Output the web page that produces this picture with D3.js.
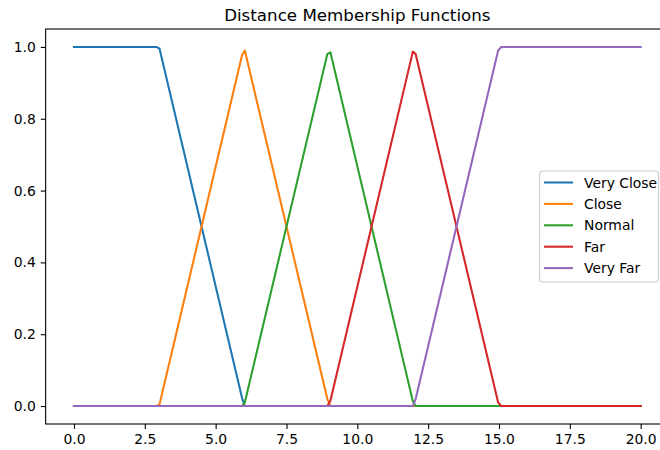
<!DOCTYPE html>
<html>
<head>
<meta charset="utf-8">
<script src="https://cdn.jsdelivr.net/npm/d3@7"></script>
<style>
  html, body { margin: 0; padding: 0; background: #fff; }
  svg { display: block; font-family: "DejaVu Sans", sans-serif; }
</style>
</head>
<body>
<svg id="chart" width="660" height="450"></svg>
<script>
// Membership function names and their breakpoints (distance, degree of membership)
const seriesNames = ["Very Close", "Close", "Normal", "Far", "Very Far"];
const seriesColors = ["#1f77b4", "#ff7f0e", "#2ca02c", "#d62728", "#9467bd"];

const veryClose = [[0, 1], [2.91, 1], [3.02, 0.995], [5.93, 0.023], [6.03, 0], [20, 0]];
const close = [[0, 0], [2.91, 0], [3.02, 0.005], [5.93, 0.977], [6.03, 0.99], [8.94, 0.02], [9.05, 0], [20, 0]];
const normal = [[0, 0], [5.93, 0], [6.03, 0.01], [8.94, 0.98], [9.05, 0.985], [11.96, 0.013], [12.06, 0], [20, 0]];
const far = [[0, 0], [8.94, 0], [9.05, 0.015], [11.96, 0.987], [12.06, 0.98], [14.97, 0.01], [15.08, 0], [20, 0]];
const veryFar = [[0, 0], [11.96, 0], [12.06, 0.02], [14.97, 0.99], [15.08, 1], [20, 1]];

const xTicks = [0, 2.5, 5, 7.5, 10, 12.5, 15, 17.5, 20];
const yTicks = [0, 0.2, 0.4, 0.6, 0.8, 1.0];

const allSeries = [veryClose, close, normal, far, veryFar];

const svg = d3.select("#chart");
const plot = { left: 45.65, right: 669, top: 29, bottom: 424 };

const x = d3.scaleLinear().domain([-1, 21]).range([plot.left, plot.right]);
const y = d3.scaleLinear().domain([-0.05, 1.05]).range([plot.bottom, plot.top]);

// Clip lines to the axes area
svg.append("defs").append("clipPath").attr("id", "clip")
  .append("rect")
  .attr("x", plot.left).attr("y", plot.top)
  .attr("width", plot.right - plot.left).attr("height", plot.bottom - plot.top);

const line = d3.line().x(d => x(d[0])).y(d => y(d[1]));

const lines = svg.append("g").attr("clip-path", "url(#clip)");
allSeries.forEach((data, i) => {
  lines.append("path")
    .datum(data)
    .attr("d", line)
    .attr("fill", "none")
    .attr("stroke", seriesColors[i])
    .attr("stroke-width", 2.08)
    .attr("stroke-linejoin", "round")
    .attr("stroke-linecap", "square");
});

// Axes
const xAxis = d3.axisBottom(x).tickValues(xTicks).tickSize(4.9).tickPadding(4.9)
  .tickFormat(d3.format(".1f"));
const yAxis = d3.axisLeft(y).tickValues(yTicks).tickSize(4.9).tickPadding(4.9)
  .tickFormat(d3.format(".1f"));

const gx = svg.append("g").attr("transform", `translate(0,${plot.bottom})`).call(xAxis);
const gy = svg.append("g").attr("transform", `translate(${plot.left},0)`).call(yAxis);
[gx, gy].forEach(g => {
  g.select(".domain").remove();
  g.selectAll(".tick line").attr("stroke", "#000").attr("stroke-width", 1.1);
  g.selectAll(".tick text").attr("fill", "#000").style("font-size", "13.9px")
    .style("font-family", "DejaVu Sans, sans-serif");
});

// Spines
svg.append("rect")
  .attr("x", plot.left).attr("y", plot.top)
  .attr("width", plot.right - plot.left).attr("height", plot.bottom - plot.top)
  .attr("fill", "none").attr("stroke", "#000").attr("stroke-width", 1.1);

// Title
svg.append("text")
  .attr("x", (plot.left + plot.right) / 2).attr("y", 21)
  .attr("text-anchor", "middle")
  .style("font-size", "16.7px")
  .attr("fill", "#000")
  .text("Distance Membership Functions");

// Legend
const legend = svg.append("g");
legend.append("rect")
  .attr("x", 539.5).attr("y", 171).attr("width", 119).attr("height", 111)
  .attr("rx", 3).attr("ry", 3)
  .attr("fill", "rgba(255,255,255,0.8)")
  .attr("stroke", "#cccccc").attr("stroke-width", 1.1);
seriesNames.forEach((name, i) => {
  const yy = 182.5 + i * 21.4;
  legend.append("line")
    .attr("x1", 544).attr("x2", 573).attr("y1", yy).attr("y2", yy)
    .attr("stroke", seriesColors[i]).attr("stroke-width", 2.08);
  legend.append("text")
    .attr("x", 584).attr("y", yy).attr("dy", "0.36em")
    .style("font-size", "13.9px").attr("fill", "#000")
    .text(name);
});
</script>
</body>
</html>
